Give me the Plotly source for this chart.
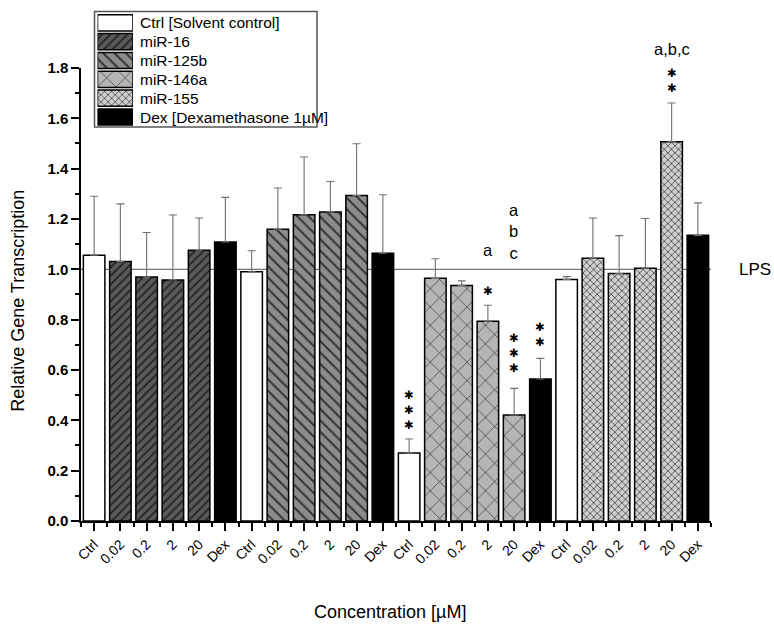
import plotly.graph_objects as go

# ---------------- data ----------------
conc_labels = ["Ctrl", "0.02", "0.2", "2", "20", "Dex"]
series_names = ["Ctrl [Solvent control]", "miR-16", "miR-125b", "miR-146a", "miR-155", "Dex [Dexamethasone 1µM]"]
block_mirs = ["miR-16", "miR-125b", "miR-146a", "miR-155"]

values = [1.056, 1.031, 0.969, 0.958, 1.076, 1.109,
          0.990, 1.159, 1.217, 1.228, 1.293, 1.064,
          0.270, 0.964, 0.936, 0.794, 0.421, 0.564,
          0.960, 1.044, 0.983, 1.004, 1.507, 1.135]
errors = [0.234, 0.229, 0.177, 0.258, 0.128, 0.177,
          0.084, 0.164, 0.229, 0.121, 0.206, 0.232,
          0.056, 0.078, 0.018, 0.063, 0.106, 0.082,
          0.011, 0.160, 0.151, 0.198, 0.154, 0.129]

lps_level = 1.0

# significance marks: (bar index, vertical centre of the stack, number of stars)
sig_stars = [(12, 0.440, 3), (15, 0.913, 1), (16, 0.668, 3), (17, 0.740, 2), (22, 1.750, 2)]
# letters: (bar index, vertical centre, lines)
sig_letters = [(15, 1.078, ["a"]), (16, 1.150, ["a", "b", "c"]), (22, 1.875, ["a,b,c"])]

Y_MAX = 1.8

# ---------------- styles ----------------
styles = {
    "Ctrl [Solvent control]": dict(color="white", shape="", fg="black", size=8, sol=0.3),
    "miR-16": dict(color="#5a5a5a", shape="/", fg="#232323", size=6, sol=0.3),
    "miR-125b": dict(color="#8c8c8c", shape="\\", fg="#333333", size=8, sol=0.25),
    "miR-146a": dict(color="#b5b5b5", shape="x", fg="#333333", size=13, sol=0.1),
    "miR-155": dict(color="#cfcfcf", shape="x", fg="#4a4a4a", size=5, sol=0.3),
    "Dex [Dexamethasone 1µM]": dict(color="black", shape="", fg="black", size=8, sol=0.3),
}

bar_series = []
for mir in block_mirs:
    bar_series += [series_names[0], mir, mir, mir, mir, series_names[5]]

FONT = "Liberation Sans, Arial, sans-serif"

fig = go.Figure()

for name in series_names:
    idx = [i for i, s in enumerate(bar_series) if s == name]
    st = styles[name]
    fig.add_trace(go.Bar(
        x=idx, y=[values[i] for i in idx],
        width=0.82,
        marker=dict(color=st["color"], line=dict(color="black", width=1.5),
                    pattern=dict(shape=st["shape"], fgcolor=st["fg"], size=st["size"],
                                 solidity=st["sol"], fillmode="overlay", fgopacity=1)),
        error_y=dict(type="data", symmetric=False, array=[errors[i] for i in idx],
                     arrayminus=[0] * len(idx), color="#707070", thickness=1.1, width=4),
        showlegend=False, name=name, xaxis="x", yaxis="y",
    ))

# custom legend drawn as horizontal bars on a small extra axis
legend_len = [1] * len(series_names)
for k, name in enumerate(series_names):
    st = styles[name]
    fig.add_trace(go.Bar(
        x=[legend_len[k]], y=[k], orientation="h", width=0.86,
        marker=dict(color=st["color"], line=dict(color="black", width=1.5),
                    pattern=dict(shape=st["shape"], fgcolor=st["fg"], size=st["size"],
                                 solidity=st["sol"], fillmode="overlay", fgopacity=1)),
        showlegend=False, xaxis="x2", yaxis="y2", hoverinfo="skip",
    ))

W, H = 774, 627
L, R, B, T = 81, 63, 106, 0
paper_h = H - B - T
top_px = 60
main_top = (paper_h - top_px) / paper_h

def px_x(x):
    return (x - L) / (W - L - R)

def px_y(y):
    return (paper_h - y) / paper_h

def val_to_paper(v):
    return v / Y_MAX * main_top

tick_text = conc_labels * len(block_mirs)

fig.update_layout(
    width=W, height=H,
    margin=dict(l=L, r=R, t=T, b=B),
    paper_bgcolor="white", plot_bgcolor="rgba(0,0,0,0)",
    font=dict(family=FONT, color="black"),
    barmode="overlay",
    xaxis=dict(range=[-0.5, 23.5], domain=[0, 1], anchor="y",
               tickmode="array", tickvals=list(range(24)), ticktext=tick_text,
               tickangle=-45, tickfont=dict(size=14, family=FONT),
               showline=True, linecolor="black", linewidth=1.5,
               ticks="outside", ticklen=8, tickwidth=1.5, tickcolor="black",
               minor=dict(tickmode="array", tickvals=[i + 0.5 for i in range(-1, 24)],
                          ticks="outside", ticklen=4, tickwidth=1.5, tickcolor="black"),
               showgrid=False, zeroline=False),
    yaxis=dict(range=[0, Y_MAX], domain=[0, main_top], anchor="x",
               tickmode="linear", tick0=0, dtick=0.2, tickformat=".1f",
               tickfont=dict(size=15, family="Liberation Sans", weight="bold"),
               showline=True, linecolor="black", linewidth=1.5,
               ticks="outside", ticklen=8, tickwidth=1.5, tickcolor="black",
               minor=dict(dtick=0.1, ticks="outside", ticklen=4, tickwidth=1.5, tickcolor="black"),
               showgrid=False, zeroline=False),
    xaxis2=dict(range=[0, 1], domain=[px_x(97.5), px_x(133)], anchor="y2",
                visible=False, fixedrange=True),
    yaxis2=dict(range=[5.5, -0.5], domain=[px_y(119.5), px_y(4.5)], anchor="x2",
                visible=False, fixedrange=True),
)

# LPS reference line
fig.add_shape(type="line", xref="x", yref="y", x0=-0.5, x1=23.5, y0=lps_level, y1=lps_level,
              line=dict(color="#555555", width=1), layer="below")

# legend frame
fig.add_shape(type="rect", xref="paper", yref="paper",
              x0=px_x(94.5), x1=px_x(317), y0=px_y(120), y1=px_y(2.5),
              line=dict(color="#555555", width=1.5), fillcolor="rgba(0,0,0,0)", layer="above")

for k, name in enumerate(series_names):
    fig.add_annotation(xref="paper", yref="y2", x=px_x(138), y=k, text=name,
                       xanchor="left", yanchor="middle", showarrow=False,
                       font=dict(size=15.5, family=FONT))

for i, y, n in sig_stars:
    fig.add_annotation(xref="x", yref="paper", x=i, y=val_to_paper(y),
                       text="<br>".join(["✱"] * n), showarrow=False,
                       xanchor="center", yanchor="middle",
                       font=dict(size=11.5, family="DejaVu Sans"))
for i, y, lines in sig_letters:
    fig.add_annotation(xref="x", yref="paper", x=i, y=val_to_paper(y),
                       text="<br>".join(lines), showarrow=False,
                       xanchor="center", yanchor="middle",
                       font=dict(size=16.5, family=FONT))

fig.add_annotation(xref="paper", yref="y", x=px_x(737), y=lps_level, text="LPS",
                   xanchor="left", yanchor="middle", showarrow=False,
                   font=dict(size=17, family=FONT))

fig.add_annotation(xref="paper", yref="paper", x=px_x(18), y=px_y(297),
                   text="Relative Gene Transcription", textangle=-90, showarrow=False,
                   xanchor="center", yanchor="middle", font=dict(size=18, family=FONT))
fig.add_annotation(xref="paper", yref="paper", x=px_x(390), y=px_y(614),
                   text="Concentration [µM]", showarrow=False,
                   xanchor="center", yanchor="middle", font=dict(size=18, family=FONT))

fig.write_html("out.html", config={"displayModeBar": False},
               post_script="document.body.style.margin='0';")
